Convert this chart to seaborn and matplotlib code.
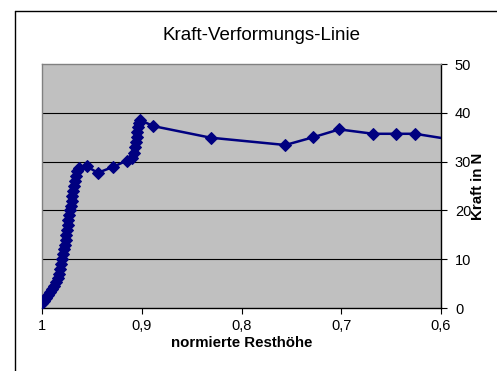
import pandas as pd
import seaborn as sns
import matplotlib.pyplot as plt
from matplotlib.lines import Line2D

# -------------------------
# Data
# -------------------------
resthoehe = [
    1.000, 0.998, 0.996, 0.994, 0.992, 0.990, 0.988, 0.986, 0.984, 0.983,
    0.982, 0.981, 0.980, 0.979, 0.978, 0.977, 0.976, 0.976, 0.975, 0.974,
    0.974, 0.973, 0.972, 0.971, 0.970, 0.970, 0.969, 0.968, 0.967, 0.966,
    0.965, 0.963, 0.955, 0.944, 0.929, 0.915, 0.910, 0.908, 0.907, 0.906,
    0.905, 0.905, 0.904, 0.903, 0.902, 0.889, 0.831, 0.756, 0.728, 0.702,
    0.668, 0.645, 0.626, 0.580,
]
kraft = [
    1.0, 1.5, 2.0, 2.6, 3.2, 3.8, 4.5, 5.3, 6.2, 7.0,
    8.0, 9.0, 10.0, 11.0, 12.0, 13.0, 14.0, 15.0, 16.0, 17.0,
    18.0, 19.0, 20.0, 21.0, 22.0, 23.0, 24.0, 25.0, 26.0, 27.0,
    28.0, 28.6, 29.0, 27.7, 28.9, 30.2, 30.8, 31.8, 33.0, 34.0,
    35.0, 36.0, 37.0, 38.0, 38.6, 37.3, 34.9, 33.4, 35.0, 36.6,
    35.7, 35.7, 35.7, 34.2,
]
x_ticks = [1.0, 0.9, 0.8, 0.7, 0.6]
x_ticklabels = ["1", "0,9", "0,8", "0,7", "0,6"]
y_ticks = [0, 10, 20, 30, 40, 50]

df = pd.DataFrame({"Resthoehe": resthoehe, "Kraft": kraft})

# -------------------------
# Plot
# -------------------------
sns.set_style("white")
plt.rcParams["font.family"] = ["Liberation Sans", "DejaVu Sans"]
plt.rcParams["text.color"] = "black"
plt.rcParams["axes.labelcolor"] = "black"
plt.rcParams["xtick.color"] = "black"
plt.rcParams["ytick.color"] = "black"

fig = plt.figure(figsize=(4.97, 3.71), dpi=100)
ax = fig.add_axes([42 / 497, 63 / 371, 399 / 497, 244 / 371])
ax.set_facecolor("#c0c0c0")

for y in y_ticks[1:-1]:
    ax.axhline(y, color="#000000", lw=0.8, zorder=1)

sns.lineplot(
    data=df, x="Resthoehe", y="Kraft",
    sort=False, estimator=None,
    color="#000080", lw=1.8,
    marker="D", markersize=6,
    markeredgecolor="#000080",
    ax=ax, zorder=3,
)

ax.set_xlim(1.0, 0.6)
ax.set_ylim(0, 50)
ax.set_xticks(x_ticks)
ax.set_xticklabels(x_ticklabels)
ax.set_yticks(y_ticks)

ax.yaxis.tick_right()
ax.yaxis.set_label_position("right")
ax.tick_params(axis="both", direction="out", length=4, width=0.8,
               labelsize=10.5, pad=4)
ax.tick_params(axis="x", bottom=True, pad=4)
ax.tick_params(axis="y", right=True, left=False, pad=6)

for side in ["left", "top"]:
    ax.spines[side].set_color("#808080")
    ax.spines[side].set_linewidth(1)
for side in ["bottom", "right"]:
    ax.spines[side].set_color("black")
    ax.spines[side].set_linewidth(1)

ax.set_xlabel("normierte Resthöhe", fontsize=10.8, fontweight="bold", labelpad=2)
ax.set_ylabel("Kraft in N", fontsize=10.8, fontweight="bold")
ax.yaxis.set_label_coords(1.076, 0.5)

fig.text(262 / 497, 1 - 36 / 371, "Kraft-Verformungs-Linie",
         ha="center", va="center", fontsize=13.5)

# chart border
fig.add_artist(Line2D([15 / 497, 15 / 497], [0, 1 - 11 / 371],
                      color="black", lw=1))
fig.add_artist(Line2D([15 / 497, 1], [1 - 11 / 371, 1 - 11 / 371],
                      color="black", lw=1))

fig.savefig("out.png", dpi=100)
